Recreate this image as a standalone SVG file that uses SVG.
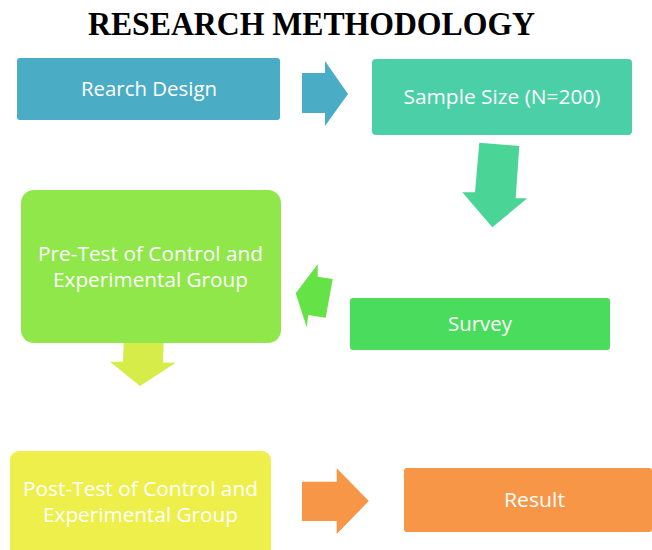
<svg xmlns="http://www.w3.org/2000/svg" width="652" height="550" viewBox="0 0 652 550">
  <style>
    .title { font-family: "Liberation Serif", "Times New Roman", serif; font-weight: bold; font-size: 33px; fill: #000; }
    .label { font-family: "Open Sans", "Noto Sans", sans-serif; font-size: 20px; fill: #ffffff; text-anchor: middle; }
  </style>
  <rect width="652" height="550" fill="#ffffff"/>

  <text class="title" x="88" y="35" textLength="447" lengthAdjust="spacingAndGlyphs">RESEARCH METHODOLOGY</text>

  <!-- block arrows between steps -->
  <g id="connectors">
    <polygon fill="#4BACC6" points="302,73 325,73 325,61 348,94 325,126 325,113 302,113"/>
    <polygon fill="#4AD596" points="479.3,142.7 519.3,146 515.7,198.3 527.3,198.3 492.3,227.3 462.3,192.3 475,192.3"/>
    <polygon fill="#64E246" points="295.7,293.3 317.7,264.3 317.7,276.7 332.7,279 325.7,317.7 308.3,315 306.7,327.3"/>
    <polygon fill="#D6EC48" points="124,333.3 164,334.3 163,362.5 175.7,362.7 140,386 110,361.7 123,361.8"/>
    <polygon fill="#F79646" points="302,481.7 336.7,481.7 336.7,468.3 368.8,501 336.7,534 336.7,521 302,521"/>
  </g>

  <g id="research-design">
    <rect x="17" y="58" width="263" height="62" rx="3" fill="#4BACC6"/>
    <text class="label" x="149" y="96" textLength="136" lengthAdjust="spacingAndGlyphs">Rearch Design</text>
  </g>

  <g id="sample-size">
    <rect x="372" y="59" width="260" height="76" rx="4" fill="#4ACFA6"/>
    <text class="label" x="502" y="104" textLength="197" lengthAdjust="spacingAndGlyphs">Sample Size (N=200)</text>
  </g>

  <g id="survey">
    <rect x="350" y="298" width="260" height="52" rx="3" fill="#4ADC5C"/>
    <text class="label" x="480" y="331" textLength="64" lengthAdjust="spacingAndGlyphs">Survey</text>
  </g>

  <g id="pre-test">
    <rect x="21" y="190" width="260" height="153" rx="13" fill="#8FE74A"/>
    <text class="label" x="150.5" y="261" textLength="225" lengthAdjust="spacingAndGlyphs">Pre-Test of Control and</text>
    <text class="label" x="150.5" y="286.5" textLength="195" lengthAdjust="spacingAndGlyphs">Experimental Group</text>
  </g>

  <g id="post-test">
    <rect x="10" y="451" width="261" height="110" rx="9" fill="#EEEF4A"/>
    <text class="label" x="140.5" y="496" textLength="235" lengthAdjust="spacingAndGlyphs">Post-Test of Control and</text>
    <text class="label" x="140.5" y="521.5" textLength="195" lengthAdjust="spacingAndGlyphs">Experimental Group</text>
  </g>

  <g id="result">
    <rect x="404" y="468" width="248" height="64" rx="3" fill="#F79646"/>
    <text class="label" x="534.5" y="507" textLength="61" lengthAdjust="spacingAndGlyphs">Result</text>
  </g>
</svg>
